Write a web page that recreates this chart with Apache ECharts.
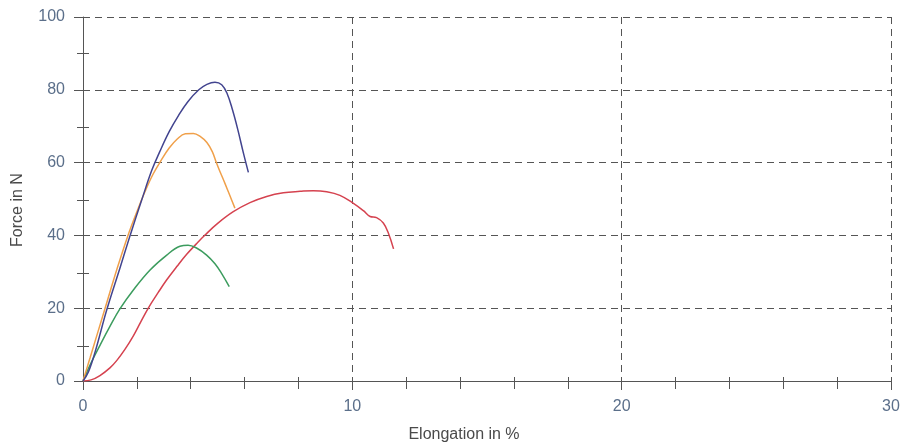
<!DOCTYPE html>
<html>
<head>
<meta charset="utf-8">
<script src="https://cdn.jsdelivr.net/npm/echarts@6/dist/echarts.min.js"></script>
<style>html,body{margin:0;padding:0;background:#fff;}#c{width:904px;height:448px;}</style>
</head>
<body>
<div id="c"></div>
<script>
// Elongation (%) / Force (N) pairs
var blueCurve = [[0,0],[0.2,2.5],[0.45,8],[0.88,19.5],[1.37,31],[1.75,40],[2.17,49.5],[2.55,57.8],[2.85,63],[3.2,68.5],[3.55,73],[3.9,76.8],[4.3,80],[4.6,81.5],[4.9,82.1],[5.15,81.4],[5.35,79],[5.55,74.5],[5.75,69],[5.95,62.8],[6.14,57.3]];
var orangeCurve = [[0,0],[0.26,6.3],[0.82,20],[1.25,30.5],[1.67,40],[2.0,46.5],[2.3,52],[2.6,56.8],[2.9,60.6],[3.2,64],[3.5,66.5],[3.8,67.9],[4.1,68],[4.35,67.2],[4.6,65.5],[4.8,63],[4.95,60],[5.1,57.3],[5.27,54.3],[5.46,50.8],[5.64,47.5]];
var greenCurve = [[0,0],[0.3,5],[0.63,9.8],[1.0,15],[1.37,19.8],[1.87,25],[2.49,30.5],[3.11,34.6],[3.6,37],[3.9,37.3],[4.2,36.6],[4.59,34.6],[4.9,32.2],[5.15,29.5],[5.43,25.9]];
var redCurve = [[0,0],[0.3,0.3],[0.63,1.5],[1.0,3.6],[1.25,5.6],[1.55,8.6],[1.87,12.4],[2.15,16.3],[2.43,20.1],[2.8,24.4],[3.11,27.8],[3.5,31.6],[3.85,34.8],[4.2,37.6],[4.53,40.1],[5.0,43.3],[5.58,46.5],[6.2,49],[6.82,50.7],[7.44,51.7],[8.06,52.1],[8.55,52.3],[9.05,52],[9.54,51],[10.04,48.8],[10.41,46.8],[10.66,45.2],[10.9,44.9],[11.15,43.4],[11.34,40.6],[11.53,36.3]];
var xTitle = 'Elongation in %';
var yTitle = 'Force in N';

var font = 'Liberation Sans, Arial, sans-serif';
var labelColor = '#5b6f8a';
var axisColor = '#555555';

function lineSeries(data, color) {
  return {type:'line', data:data, showSymbol:false, smooth:0.4, lineStyle:{color:color, width:1.5}, itemStyle:{color:color}, silent:true, z:3};
}
function hiddenAxis(type, gridIndex, min, max, interval) {
  return {type:type, gridIndex:gridIndex, min:min, max:max, interval:interval, show:false};
}
function crossTickAxis(gridIndex, min, max, interval, split, position) {
  return {
    type:'value', gridIndex:gridIndex, min:min, max:max, interval:interval, position:position,
    axisLine:{show:false, onZero:false},
    axisTick:{show:true, inside:true, length:0.5, lineStyle:{color:axisColor, opacity:0}},
    minorTick:{show:true, splitNumber:split, length:12, lineStyle:{color:axisColor, width:1}},
    axisLabel:{show:false}, splitLine:{show:false}
  };
}

var chart = echarts.init(document.getElementById('c'), null, {renderer:'canvas'});
chart.setOption({
  animation:false,
  backgroundColor:'#ffffff',
  grid:[
    {left:83, right:13, top:17, bottom:65, containLabel:false},
    {left:83, right:13, top:17, bottom:59, containLabel:false},
    {left:77, right:19, top:17, bottom:65, containLabel:false}
  ],
  xAxis:[{
    type:'value', min:0, max:30, interval:10,
    name:xTitle, nameLocation:'middle', nameGap:46,
    nameTextStyle:{fontFamily:font, fontSize:16, color:'#4a4a4a', padding:[0,46,0,0]},
    axisLine:{show:true, onZero:false, lineStyle:{color:axisColor, width:1}},
    axisTick:{show:true, inside:false, length:9, lineStyle:{color:axisColor}},
    minorTick:{show:false},
    axisLabel:{fontFamily:font, fontSize:16, color:labelColor, margin:18},
    splitLine:{show:true, lineStyle:{color:axisColor, type:[7,5], width:1}}
  },
  crossTickAxis(1, 0, 30, 10, 5, 'bottom'),
  hiddenAxis('value', 2, 0, 30, 10)
  ],
  yAxis:[{
    type:'value', min:0, max:100, interval:20,
    name:yTitle, nameLocation:'middle', nameGap:57, nameRotate:90,
    nameTextStyle:{fontFamily:font, fontSize:16, color:'#4a4a4a', padding:[0,22,0,0]},
    axisLine:{show:true, onZero:false, lineStyle:{color:axisColor, width:1}},
    axisTick:{show:true, inside:false, length:9, lineStyle:{color:axisColor}},
    minorTick:{show:false},
    axisLabel:{fontFamily:font, fontSize:16, color:labelColor, margin:18},
    splitLine:{show:true, lineStyle:{color:axisColor, type:[7,5], width:1}}
  },
  hiddenAxis('value', 1, 0, 100, 20),
  crossTickAxis(2, 0, 100, 20, 2, 'left')
  ],
  series:[
    lineSeries(redCurve, '#d5424f'),
    lineSeries(greenCurve, '#3c9c5e'),
    lineSeries(orangeCurve, '#f0a04a'),
    lineSeries(blueCurve, '#42448f')
  ]
});
</script>
</body>
</html>
